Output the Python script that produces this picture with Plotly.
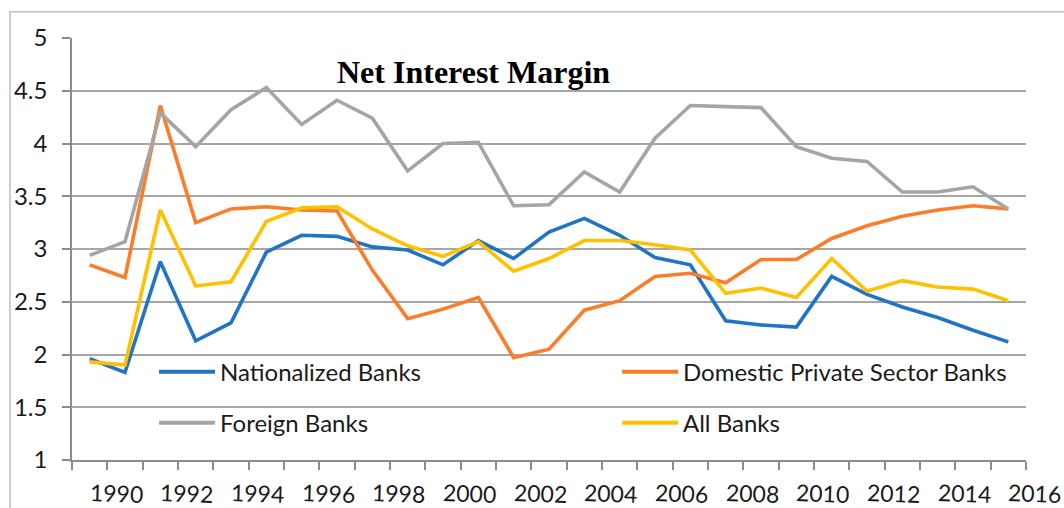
import plotly.graph_objects as go

# Net interest margin (%) by bank group, 1989-2015
years = list(range(1989, 2016))
nationalized = [1.96, 1.83, 2.88, 2.13, 2.30, 2.97, 3.13, 3.12, 3.02, 2.99, 2.85, 3.08, 2.91, 3.16,
                3.29, 3.13, 2.92, 2.85, 2.32, 2.28, 2.26, 2.74, 2.57, 2.45, 2.35, 2.23, 2.12]
domestic_private = [2.85, 2.73, 4.36, 3.25, 3.38, 3.40, 3.37, 3.36, 2.80, 2.34, 2.43, 2.54, 1.97, 2.05,
                    2.42, 2.51, 2.74, 2.77, 2.68, 2.90, 2.90, 3.10, 3.22, 3.31, 3.37, 3.41, 3.38]
foreign = [2.94, 3.07, 4.29, 3.97, 4.32, 4.53, 4.18, 4.41, 4.24, 3.74, 4.00, 4.01, 3.41, 3.42,
           3.73, 3.54, 4.05, 4.36, 4.35, 4.34, 3.97, 3.86, 3.83, 3.54, 3.54, 3.59, 3.38]
all_banks = [1.93, 1.90, 3.37, 2.65, 2.69, 3.26, 3.39, 3.40, 3.19, 3.03, 2.93, 3.07, 2.79, 2.91,
             3.08, 3.08, 3.04, 2.99, 2.58, 2.63, 2.54, 2.91, 2.60, 2.70, 2.64, 2.62, 2.51]

series_names = ["Nationalized Banks", "Domestic Private Sector Banks", "Foreign Banks", "All Banks"]
series_colors = ["#1F74C6", "#FB7D2A", "#A5A5A5", "#FFC000"]
series_values = [nationalized, domestic_private, foreign, all_banks]

year_labels = list(range(1990, 2017, 2))
y_ticks = [1, 1.5, 2, 2.5, 3, 3.5, 4, 4.5, 5]

W, H = 1064, 508
L, R, T, B = 72, 38.3, 38.3, 47.7
plot_w = W - L - R
plot_h = H - T - B
x_lo, x_hi = years[0] - 0.5, years[-1] + 0.5


def px_x(px):
    return (px - L) / plot_w


def px_y(py):
    return (H - B - py) / plot_h


fig = go.Figure()
for name, color, vals in zip(series_names, series_colors, series_values):
    fig.add_trace(go.Scatter(x=years, y=vals, mode="lines", name=name,
                             line=dict(color=color, width=3.6), showlegend=False))

shapes = [
    # outer chart border
    dict(type="rect", xref="paper", yref="paper", x0=px_x(10), x1=px_x(1100),
         y0=px_y(560), y1=px_y(12), line=dict(color="#BFBFBF", width=1.5), layer="below"),
]
annotations = [
    dict(text="<b>Net Interest Margin</b>", xref="paper", yref="paper", x=px_x(473), y=px_y(72),
         xanchor="center", yanchor="middle", showarrow=False,
         font=dict(family="Liberation Serif", size=32, color="black")),
]

# legend keys, two columns by two rows
legend_pos = [(159, 372), (622, 372), (159, 423), (622, 423)]
for (lx, ly), name, color in zip(legend_pos, series_names, series_colors):
    shapes.append(dict(type="line", xref="paper", yref="paper", x0=px_x(lx), x1=px_x(lx + 56),
                       y0=px_y(ly), y1=px_y(ly), line=dict(color=color, width=4)))
    annotations.append(dict(text=name, xref="paper", yref="paper", x=px_x(lx + 59), y=px_y(ly),
                            xanchor="left", yanchor="middle", showarrow=False,
                            font=dict(family="Lato", size=24, color="#1a1a1a")))

# year labels along the bottom axis
for yr in year_labels:
    annotations.append(dict(text=str(yr), xref="paper", yref="paper",
                            x=(yr - x_lo) / (x_hi - x_lo), y=0,
                            xanchor="center", yanchor="middle", xshift=-9, yshift=-33,
                            textangle=2, showarrow=False,
                            font=dict(family="Lato", size=23, color="#1a1a1a")))

fig.update_layout(
    width=W, height=H,
    margin=dict(l=L, r=R, t=T, b=B, pad=0),
    paper_bgcolor="white", plot_bgcolor="white",
    shapes=shapes, annotations=annotations,
    xaxis=dict(range=[x_lo, x_hi], showgrid=False, zeroline=False,
               showline=True, linecolor="#8C8C8C", linewidth=1.5,
               tickmode="array", tickvals=[x_lo + k for k in range(len(years) + 1)],
               ticks="outside", ticklen=8, tickwidth=1.5, tickcolor="#8C8C8C",
               showticklabels=False),
    yaxis=dict(range=[1, 5], tickmode="array", tickvals=y_ticks,
               showgrid=True, gridcolor="#A6A6A6", gridwidth=1.5, zeroline=False,
               showline=True, linecolor="#8C8C8C", linewidth=1.5,
               ticks="outside", ticklen=8, tickwidth=1.5, tickcolor="#8C8C8C",
               ticklabelstandoff=10,
               tickfont=dict(family="Lato", size=24, color="#1a1a1a")),
    font=dict(family="Lato"),
)

fig.write_html("out.html")
